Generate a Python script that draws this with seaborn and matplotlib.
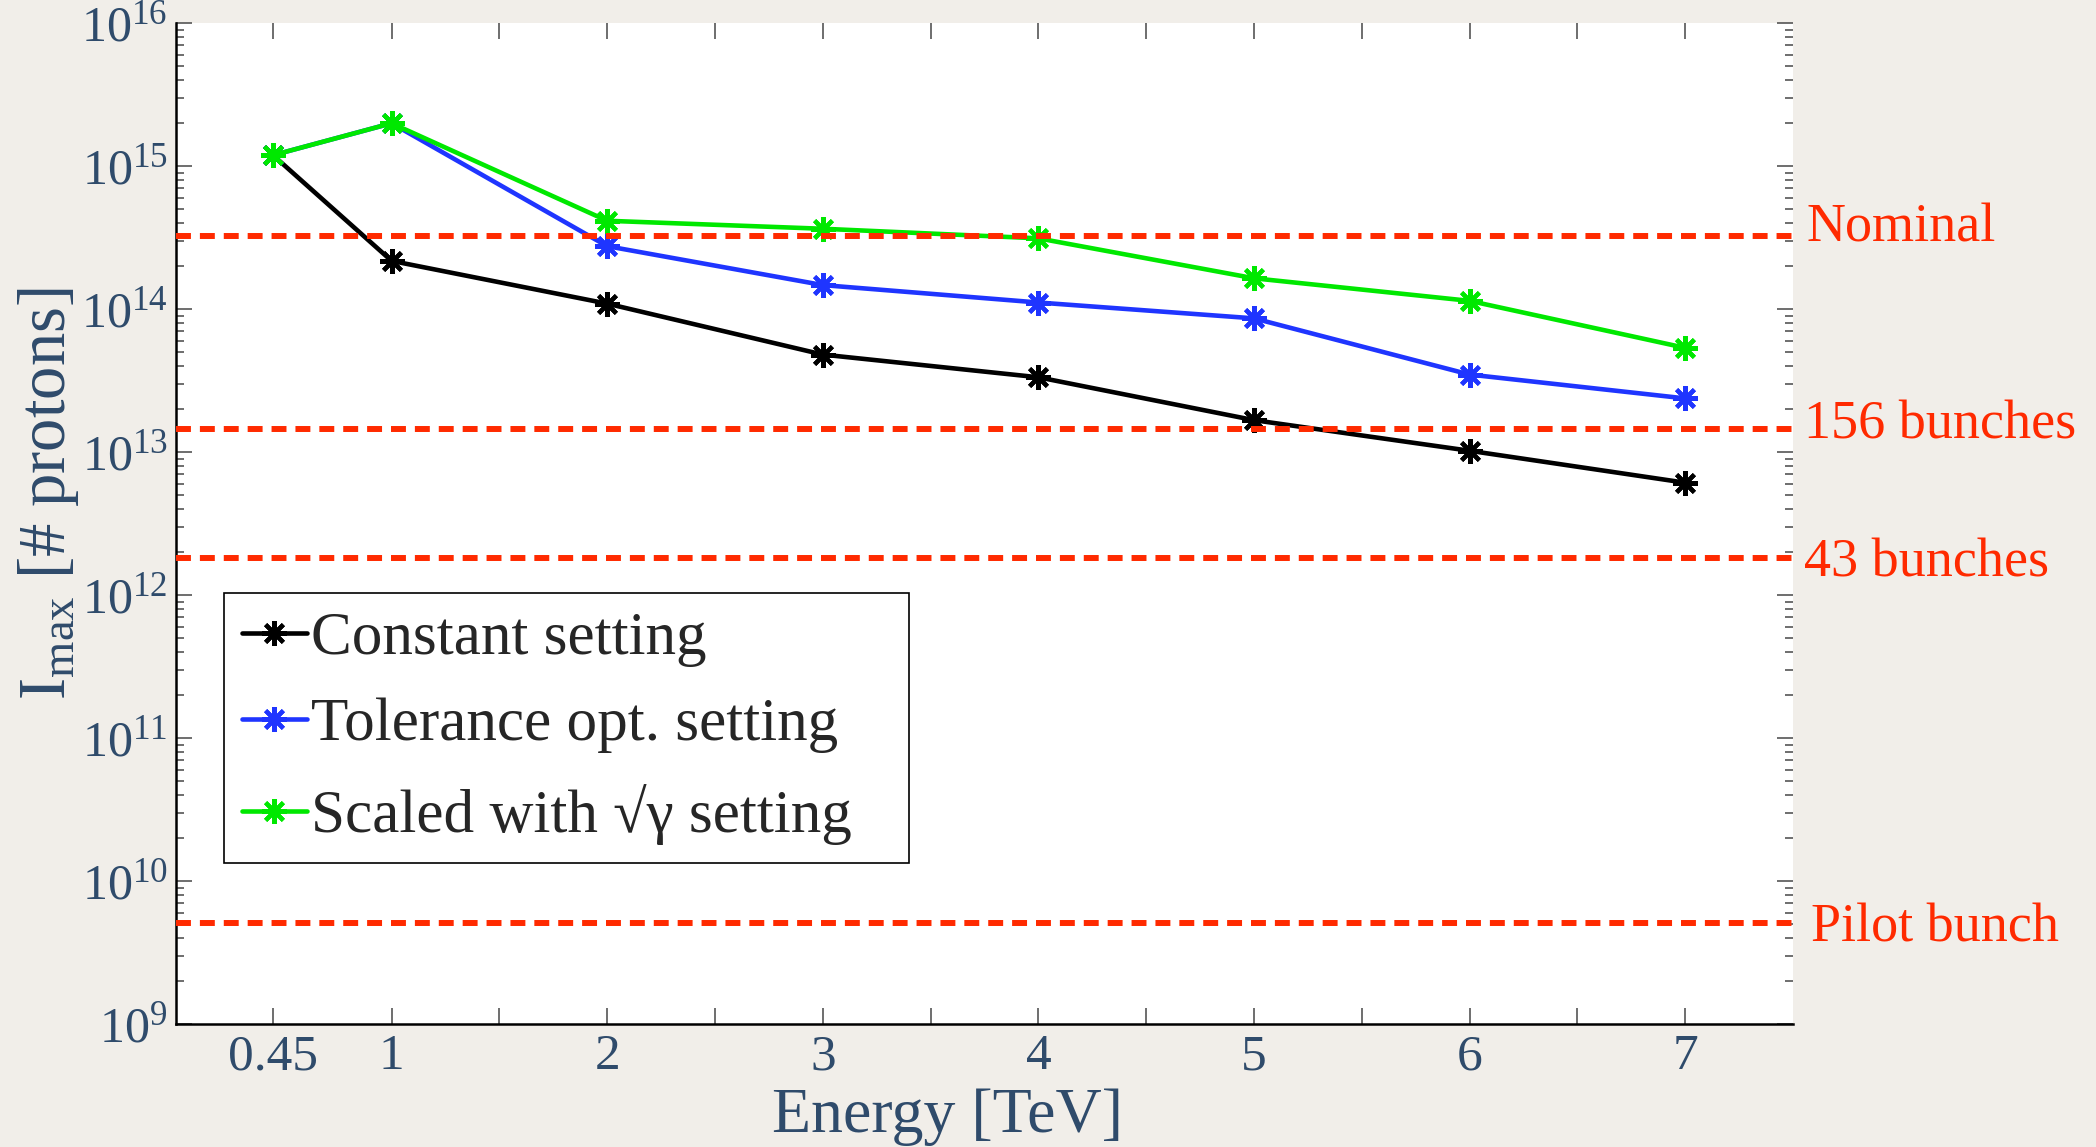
import numpy as np
import pandas as pd
import matplotlib
matplotlib.use("Agg")
import matplotlib.pyplot as plt
import seaborn as sns
from matplotlib.ticker import FixedLocator, LogLocator, NullFormatter, LogFormatterMathtext

# ---------------- data ----------------
energy = [0.45, 1, 2, 3, 4, 5, 6, 7]
constant_setting = [1.19e15, 2.17e14, 1.09e14, 4.8e13, 3.33e13, 1.67e13, 1.02e13, 6.1e12]
tolerance_setting = [1.19e15, 1.99e15, 2.75e14, 1.47e14, 1.11e14, 8.6e13, 3.48e13, 2.37e13]
scaled_setting = [1.19e15, 1.99e15, 4.14e14, 3.64e14, 3.12e14, 1.64e14, 1.14e14, 5.35e13]
series_names = ["Constant setting", "Tolerance opt. setting", "Scaled with \u221a\u03b3 setting"]
series_colors = ["#000000", "#1f35ff", "#00e800"]

ref_names = ["Nominal", "156 bunches", "43 bunches", "Pilot bunch"]
ref_values = [3.25e14, 1.44e13, 1.8e12, 5.1e9]

xtick_values = [0.45, 1, 1.5, 2, 2.5, 3, 3.5, 4, 4.5, 5, 5.5, 6, 6.5, 7]
xtick_labels = ["0.45", "1", "", "2", "", "3", "", "4", "", "5", "", "6", "", "7"]
ytick_values = [1e9, 1e10, 1e11, 1e12, 1e13, 1e14, 1e15, 1e16]

# ---------------- style ----------------
sns.set_style("ticks")
plt.rcParams["font.family"] = ["Liberation Serif", "DejaVu Serif"]
plt.rcParams["mathtext.fontset"] = "custom"
plt.rcParams["mathtext.rm"] = "Liberation Serif"
plt.rcParams["mathtext.it"] = "Liberation Serif:italic"

TXT = "#2f4b6b"
RED = "#ff2a00"
BG = "#f1eee9"

fig = plt.figure(figsize=(20.96, 11.47), dpi=100, facecolor=BG)
ax = fig.add_axes([176 / 2096, 1 - 1024 / 1147, 1617 / 2096, 1001 / 1147])
ax.set_facecolor("white")

df = pd.DataFrame({"energy": energy * 3,
                   "value": constant_setting + tolerance_setting + scaled_setting,
                   "series": [series_names[0]] * 8 + [series_names[1]] * 8 + [series_names[2]] * 8})

for name, col in zip(series_names, series_colors):
    sub = df[df["series"] == name]
    sns.lineplot(data=sub, x="energy", y="value", ax=ax, color=col, lw=3.3,
                 marker=(8, 2, 0), markersize=18, markeredgewidth=3.0,
                 markeredgecolor=col, markerfacecolor=col, label=name, zorder=4)

for val in ref_values:
    ax.axhline(val, color=RED, lw=4.3, linestyle=(0, (2.5, 1.5)), zorder=5)

ax.set_yscale("log")
ax.set_ylim(1e9, 1e16)
ax.set_xlim(0, 7.5)

ax.xaxis.set_major_locator(FixedLocator(xtick_values))
ax.set_xticklabels(xtick_labels)
ax.xaxis.set_minor_locator(FixedLocator([]))
ax.yaxis.set_major_locator(FixedLocator(ytick_values))
ax.yaxis.set_major_formatter(LogFormatterMathtext())
ax.yaxis.set_minor_locator(LogLocator(base=10, subs=np.arange(2, 10)))
ax.yaxis.set_minor_formatter(NullFormatter())

ax.tick_params(axis="both", which="both", direction="in", top=True, right=True,
               color="#555555", width=1.2)
ax.tick_params(axis="both", which="major", length=11.5)
ax.tick_params(axis="both", which="minor", length=6)
ax.tick_params(axis="x", which="major", labelsize=37, labelcolor=TXT, pad=7)
ax.tick_params(axis="y", which="major", labelsize=36, labelcolor=TXT, pad=6)

for s in ["top", "right"]:
    ax.spines[s].set_visible(False)
for s in ["left", "bottom"]:
    ax.spines[s].set_color("black")
    ax.spines[s].set_linewidth(1.8)

ax.set_xlabel("Energy [TeV]", fontsize=46, color=TXT, va="baseline")
ax.xaxis.set_label_coords(0.477, -0.108)
ax.set_ylabel("$\\mathregular{I_{max}}$ [# protons]", fontsize=48, color=TXT)
ax.yaxis.set_label_coords(-0.059, 0.530)

label_dx = [10, 8, 8, 13]
label_dy = [-4, -6.5, -13, -13.7]
for name, val, dx, dy in zip(ref_names, ref_values, label_dx, label_dy):
    ax.annotate(name, xy=(1, val), xycoords=("axes fraction", "data"),
                xytext=(dx, dy), textcoords="offset points", ha="left", va="baseline",
                color=RED, fontsize=39, annotation_clip=False)

leg = ax.legend(loc="upper left", bbox_to_anchor=(0.0297, 0.167, 0.4236, 0.2636),
                mode="expand", borderaxespad=0,
                frameon=True, fancybox=False, edgecolor="black", framealpha=1,
                prop={"family": ["Liberation Serif", "DejaVu Serif"], "size": 44},
                handlelength=1.05, handletextpad=0.08, labelspacing=0.5, borderpad=0.3)
leg.get_frame().set_linewidth(1.2)
leg.set_zorder(10)

fig.savefig("out.png", dpi=100, facecolor=BG)
